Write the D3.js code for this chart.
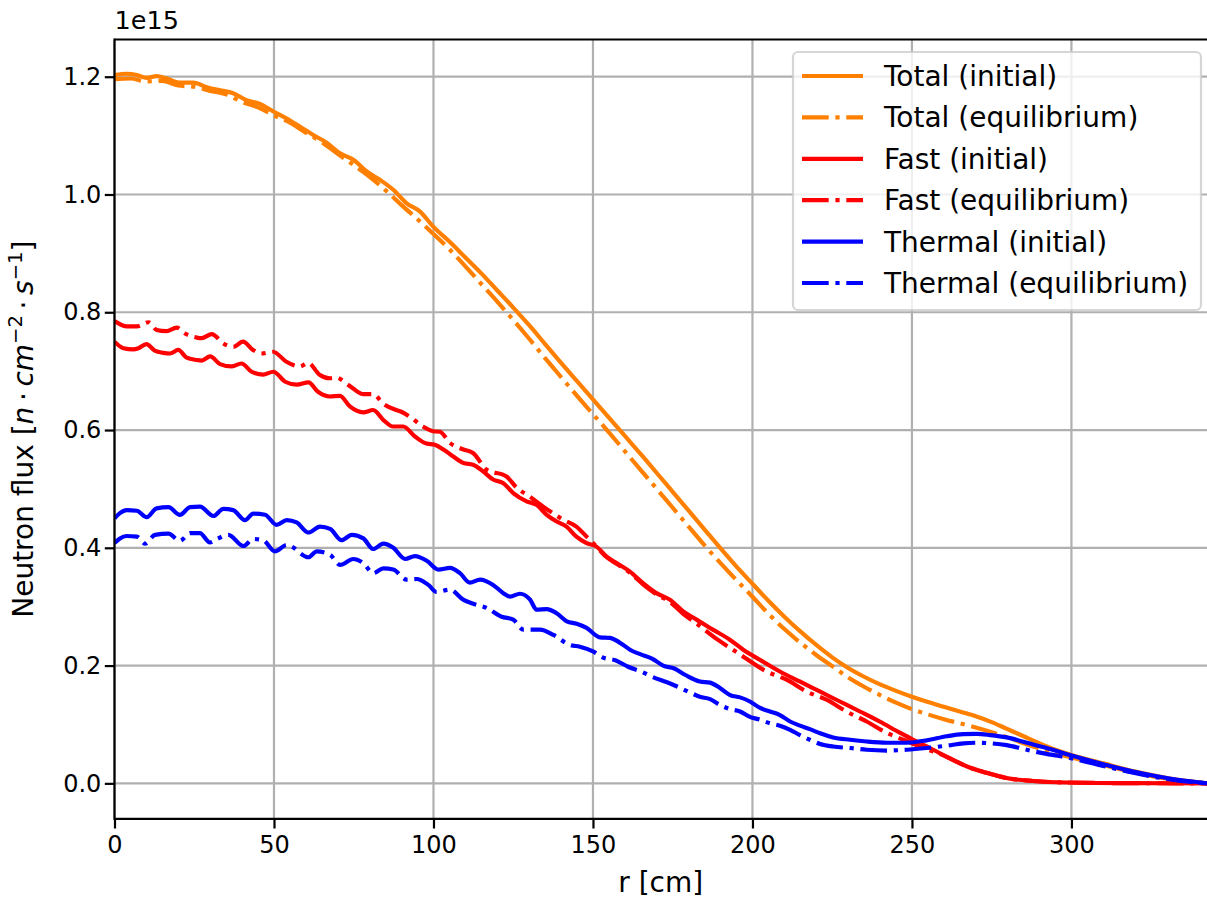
<!DOCTYPE html>
<html>
<head>
<meta charset="utf-8">
<script src="https://cdn.jsdelivr.net/npm/d3@7"></script>
<style>
  html, body { margin: 0; padding: 0; background: #fff; }
  svg { display: block; font-family: "DejaVu Sans", sans-serif; }
</style>
</head>
<body>
<svg id="chart" width="1207" height="905"></svg>
<script>
// Radial neutron flux profiles, [r (cm), flux / 1e15 (n·cm^-2·s^-1)]
const totalInitial = [[0,1.203],[3.8,1.205],[7.0,1.203],[10.1,1.198],[13.2,1.201],[16.4,1.197],[20.5,1.190],[24.7,1.190],[28.9,1.182],[33.1,1.177],[37.2,1.172],[41.4,1.160],[45.6,1.154],[49.8,1.141],[54.0,1.129],[58.2,1.115],[62.3,1.101],[66.5,1.088],[70.7,1.070],[74.9,1.059],[79.1,1.039],[83.2,1.025],[87.4,1.008],[91.6,0.985],[95.8,0.971],[100,0.945],[105,0.920],[110,0.893],[115,0.866],[120,0.837],[125,0.808],[130,0.778],[135,0.746],[140,0.714],[145,0.683],[150,0.652],[155,0.621],[160,0.590],[165,0.559],[170,0.527],[175,0.495],[180,0.463],[185,0.431],[190,0.399],[195,0.368],[200,0.339],[205,0.310],[210,0.283],[215,0.258],[220,0.235],[225,0.214],[230,0.196],[235,0.181],[240,0.168],[245,0.157],[250,0.147],[255,0.138],[260,0.130],[265,0.122],[270,0.114],[275,0.104],[280,0.092],[285,0.080],[290,0.068],[295,0.057],[300,0.048],[310,0.034],[320,0.020],[330,0.009],[342.5,0]];

const totalEquilibrium = [[0,1.196],[5,1.197],[10,1.192],[15,1.193],[20,1.185],[25,1.183],[30,1.176],[35,1.170],[40,1.157],[45,1.148],[50,1.134],[55,1.122],[60,1.105],[65,1.089],[70,1.069],[75,1.050],[80,1.030],[85,1.007],[90,0.982],[95,0.958],[100,0.933],[105,0.907],[110,0.878],[115,0.848],[120,0.818],[125,0.787],[130,0.755],[135,0.722],[140,0.690],[145,0.658],[150,0.627],[155,0.596],[160,0.564],[165,0.532],[170,0.500],[175,0.468],[180,0.436],[185,0.404],[190,0.374],[195,0.345],[200,0.317],[205,0.288],[210,0.262],[215,0.239],[220,0.218],[225,0.199],[230,0.180],[235,0.164],[240,0.150],[245,0.137],[250,0.126],[255,0.117],[260,0.109],[265,0.102],[270,0.095],[275,0.087],[280,0.078],[285,0.068],[290,0.059],[295,0.051],[300,0.044],[310,0.031],[320,0.018],[330,0.008],[342.5,0]];

const fastInitial = [[0,0.750],[2.8,0.739],[5.9,0.737],[7.5,0.739],[10.0,0.746],[12.6,0.735],[15.3,0.731],[17.4,0.730],[20.0,0.736],[22.6,0.723],[25.8,0.719],[27.3,0.718],[30.0,0.725],[33.1,0.712],[36.8,0.708],[39.8,0.713],[43.0,0.699],[46.6,0.694],[49.8,0.699],[53.5,0.682],[57.1,0.677],[60.8,0.681],[63.8,0.665],[67.5,0.657],[70.7,0.658],[73.8,0.640],[78.0,0.630],[81.1,0.634],[84.3,0.617],[87.3,0.606],[90.5,0.606],[94.2,0.589],[97.8,0.577],[100.4,0.575],[103.1,0.567],[106.2,0.555],[109.4,0.544],[112.4,0.541],[115.5,0.530],[118.7,0.516],[121.8,0.510],[125.0,0.493],[129.2,0.479],[132.3,0.473],[135.5,0.456],[138.5,0.445],[141.7,0.436],[144.8,0.419],[148.0,0.408],[151.1,0.402],[154.3,0.385],[157.4,0.374],[161.5,0.360],[165.7,0.340],[169.9,0.323],[174.1,0.312],[178.3,0.292],[182.5,0.278],[187.6,0.261],[192.9,0.244],[197.1,0.227],[202.3,0.210],[208.6,0.190],[214.8,0.173],[221.1,0.156],[227.4,0.139],[233.7,0.122],[239.9,0.105],[246.2,0.086],[250.4,0.074],[254.6,0.063],[258.8,0.051],[262.8,0.040],[267.1,0.029],[273.3,0.018],[279.6,0.009],[287.9,0.004],[298.4,0.0015],[320,0.0003],[342.5,0]];

const fastEquilibrium = [[0,0.785],[3.9,0.776],[7.0,0.776],[10.7,0.783],[13.2,0.770],[16.3,0.768],[19.5,0.774],[22.1,0.764],[25.8,0.757],[27.3,0.756],[30.5,0.763],[34.1,0.747],[37.2,0.741],[40.3,0.750],[43.4,0.736],[46.0,0.730],[49.7,0.733],[53.9,0.716],[58.1,0.708],[60.7,0.714],[64.3,0.694],[67.4,0.688],[69.5,0.689],[73.7,0.675],[77.9,0.661],[81.1,0.661],[84.2,0.645],[88.3,0.634],[89.9,0.631],[92.5,0.623],[96.7,0.606],[99.9,0.598],[102.0,0.597],[105.2,0.578],[109.4,0.567],[112.4,0.561],[116.6,0.533],[122.9,0.521],[126.1,0.502],[130.2,0.487],[134.4,0.470],[140.6,0.448],[144.8,0.436],[148.0,0.419],[151.1,0.402],[154.3,0.384],[157.4,0.373],[161.5,0.358],[165.7,0.338],[169.9,0.321],[174.1,0.308],[178.3,0.288],[182.8,0.270],[189.1,0.244],[195.3,0.222],[204.4,0.190],[210.7,0.176],[216.9,0.156],[223.2,0.142],[229.5,0.122],[235.8,0.105],[242.0,0.086],[248.3,0.072],[254.6,0.058],[258.8,0.050],[262.8,0.040],[267.1,0.029],[273.3,0.018],[279.6,0.009],[287.9,0.004],[298.4,0.0015],[320,0.0003],[342.5,0]];

const thermalInitial = [[0,0.450],[1.7,0.459],[3.8,0.464],[7.0,0.463],[10.1,0.452],[13.2,0.467],[16.9,0.469],[20.5,0.456],[23.7,0.469],[26.8,0.470],[31.0,0.454],[34.1,0.466],[37.2,0.464],[40.9,0.447],[43.5,0.458],[47.2,0.456],[50.8,0.439],[54.0,0.447],[57.1,0.443],[60.8,0.426],[64.4,0.436],[67.6,0.432],[71.2,0.413],[74.4,0.422],[78.0,0.416],[81.1,0.398],[84.3,0.407],[87.4,0.400],[91.1,0.381],[94.2,0.386],[97.9,0.378],[101.5,0.363],[105.2,0.366],[108.3,0.357],[111.4,0.341],[114.6,0.346],[118.7,0.337],[121.9,0.323],[124.0,0.317],[127.1,0.322],[130.3,0.312],[132.3,0.295],[135.5,0.296],[138.6,0.289],[141.8,0.275],[144.9,0.271],[148.0,0.264],[152.2,0.248],[155.3,0.247],[159.5,0.235],[161.6,0.227],[165.0,0.219],[168.5,0.212],[172.0,0.200],[175.5,0.195],[179.0,0.184],[183.5,0.173],[186.7,0.171],[189.8,0.162],[193.0,0.150],[196.1,0.146],[199.2,0.139],[202.4,0.128],[205.5,0.122],[208.6,0.116],[211.8,0.105],[214.9,0.098],[218.0,0.092],[221.2,0.085],[225.3,0.078],[230.6,0.074],[235.8,0.071],[242.1,0.069],[248.3,0.069],[254.6,0.073],[260.9,0.080],[266.1,0.0835],[270.3,0.084],[274.5,0.082],[279.7,0.078],[286.0,0.069],[292.2,0.060],[299.5,0.048],[308.9,0.034],[319.4,0.020],[329.8,0.009],[342.5,0]];

const thermalEquilibrium = [[0,0.408],[1.7,0.416],[3.8,0.420],[7.0,0.419],[9.6,0.407],[12.7,0.422],[16.9,0.424],[20.5,0.412],[23.7,0.425],[26.8,0.425],[29.9,0.409],[32.5,0.416],[35.7,0.422],[40.4,0.403],[43.5,0.415],[46.6,0.413],[50.3,0.394],[54.0,0.405],[55.5,0.402],[60.8,0.384],[63.4,0.394],[67.6,0.388],[70.7,0.371],[74.9,0.381],[78.0,0.374],[81.1,0.357],[84.3,0.365],[87.4,0.363],[91.6,0.346],[94.7,0.347],[98.4,0.337],[101.0,0.325],[105.2,0.329],[109.3,0.312],[112.5,0.305],[116.7,0.298],[121.4,0.283],[125.0,0.278],[128.2,0.261],[133.4,0.261],[137.6,0.252],[142.8,0.235],[145.9,0.232],[150.0,0.224],[153.0,0.214],[157.0,0.209],[161.0,0.198],[165.0,0.190],[169.0,0.180],[173.0,0.172],[177.0,0.163],[180.5,0.154],[183.5,0.147],[186.7,0.143],[189.8,0.133],[193.0,0.126],[196.1,0.122],[199.2,0.113],[202.4,0.108],[205.5,0.102],[208.6,0.098],[211.8,0.091],[214.9,0.082],[218.0,0.074],[221.2,0.067],[225.3,0.0625],[230.6,0.060],[235.8,0.057],[242.1,0.0557],[248.3,0.057],[254.6,0.060],[260.9,0.064],[266.1,0.068],[270.3,0.069],[274.5,0.068],[279.7,0.065],[286.0,0.057],[292.2,0.050],[299.5,0.043],[308.9,0.031],[319.4,0.018],[329.8,0.0076],[342.5,0]];

const seriesLabels = ["Total (initial)", "Total (equilibrium)", "Fast (initial)", "Fast (equilibrium)", "Thermal (initial)", "Thermal (equilibrium)"];
const seriesColors = ["#ff8000", "#ff8000", "#ff0000", "#ff0000", "#0000ff", "#0000ff"];
const seriesDashed = [false, true, false, true, false, true];
const seriesData = [totalInitial, totalEquilibrium, fastInitial, fastEquilibrium, thermalInitial, thermalEquilibrium];

const xTicks = [0, 50, 100, 150, 200, 250, 300];
const yTicks = [0.0, 0.2, 0.4, 0.6, 0.8, 1.0, 1.2];
const xDomain = [0, 342.5];
const yDomain = [-0.0602, 1.2632];

// Layout
const plot = { left: 114.5, right: 1207, top: 39.5, bottom: 818.8 };
const LW = 4.17;
const dashPattern = [26.7, 6.7, 4.2, 6.7].join(",");
const tickFont = 24;
const offsetFont = 25.5;
const labelFont = 28;
const gridColor = "#b0b0b0";

const svg = d3.select("#chart");
const x = d3.scaleLinear().domain(xDomain).range([plot.left, plot.right]);
const y = d3.scaleLinear().domain(yDomain).range([plot.bottom, plot.top]);

svg.append("defs").append("clipPath").attr("id", "plotClip")
  .append("rect")
  .attr("x", plot.left).attr("y", plot.top)
  .attr("width", plot.right - plot.left).attr("height", plot.bottom - plot.top);

// Grid
const grid = svg.append("g");
grid.selectAll("line.gx").data(xTicks).join("line")
  .attr("x1", d => x(d)).attr("x2", d => x(d))
  .attr("y1", plot.top).attr("y2", plot.bottom)
  .attr("stroke", gridColor).attr("stroke-width", 2.2);
grid.selectAll("line.gy").data(yTicks).join("line")
  .attr("y1", d => y(d)).attr("y2", d => y(d))
  .attr("x1", plot.left).attr("x2", plot.right)
  .attr("stroke", gridColor).attr("stroke-width", 2.2);

// Curves
const line = d3.line()
  .x(d => x(d[0]))
  .y(d => y(d[1]))
  .curve(d3.curveMonotoneX);

const curves = svg.append("g").attr("clip-path", "url(#plotClip)");
seriesData.forEach((data, i) => {
  curves.append("path")
    .datum(data)
    .attr("d", line)
    .attr("fill", "none")
    .attr("stroke", seriesColors[i])
    .attr("stroke-width", LW)
    .attr("stroke-linejoin", "round")
    .attr("stroke-dasharray", seriesDashed[i] ? dashPattern : null);
});

// Axes
const xAxis = d3.axisBottom(x).tickValues(xTicks).tickFormat(d3.format("d"))
  .tickSizeInner(9.7).tickSizeOuter(0).tickPadding(7);
const yAxis = d3.axisLeft(y).tickValues(yTicks).tickFormat(d3.format(".1f"))
  .tickSizeInner(9.7).tickSizeOuter(0).tickPadding(3.5);

const gx = svg.append("g").attr("transform", `translate(0,${plot.bottom})`).call(xAxis);
const gy = svg.append("g").attr("transform", `translate(${plot.left},0)`).call(yAxis);
[gx, gy].forEach(g => {
  g.select(".domain").remove();
  g.selectAll(".tick line").attr("stroke", "#000").attr("stroke-width", 2.2);
  g.selectAll(".tick text")
    .attr("fill", "#000")
    .style("font-family", "DejaVu Sans")
    .style("font-size", tickFont + "px");
});

// Spines
const spines = svg.append("g").attr("stroke", "#000").attr("stroke-width", 2.2).attr("fill", "none");
spines.append("line").attr("x1", plot.left).attr("x2", plot.left).attr("y1", plot.top - 1.1).attr("y2", plot.bottom + 1.1);
spines.append("line").attr("x1", plot.left).attr("x2", plot.right + 2).attr("y1", plot.bottom).attr("y2", plot.bottom);
spines.append("line").attr("x1", plot.left).attr("x2", plot.right + 2).attr("y1", plot.top).attr("y2", plot.top);

// Offset (scale) text
svg.append("text")
  .attr("x", plot.left).attr("y", plot.top - 11)
  .style("font-size", offsetFont + "px")
  .text("1e15");

// Axis labels
svg.append("text")
  .attr("x", (plot.left + plot.right) / 2).attr("y", 892)
  .attr("text-anchor", "middle")
  .style("font-size", labelFont + "px")
  .text("r [cm]");

const yl = svg.append("text")
  .attr("transform", `translate(33,${(plot.top + plot.bottom) / 2}) rotate(-90)`)
  .attr("text-anchor", "middle")
  .style("font-size", labelFont + "px");
yl.append("tspan").text("Neutron flux [");
yl.append("tspan").attr("font-style", "italic").text("n");
yl.append("tspan").text("\u2009\u00b7\u2009");
yl.append("tspan").attr("font-style", "italic").text("cm");
yl.append("tspan").attr("dy", -11).style("font-size", (labelFont * 0.7) + "px").text("\u22122");
yl.append("tspan").attr("dy", 11).text("\u2009\u00b7\u2009");
yl.append("tspan").attr("font-style", "italic").text("s");
yl.append("tspan").attr("dy", -11).style("font-size", (labelFont * 0.7) + "px").text("\u22121");
yl.append("tspan").attr("dy", 11).text("]");

// Legend
const legend = { x: 793, y: 52, w: 408, h: 258, rowY0: 76, rowStep: 41.4 };
const lg = svg.append("g");
lg.append("rect")
  .attr("x", legend.x).attr("y", legend.y)
  .attr("width", legend.w).attr("height", legend.h)
  .attr("rx", 5).attr("ry", 5)
  .attr("fill", "#fff").attr("fill-opacity", 0.8)
  .attr("stroke", "#cccccc").attr("stroke-opacity", 0.8).attr("stroke-width", 2.2);

seriesLabels.forEach((label, i) => {
  const cy = legend.rowY0 + i * legend.rowStep;
  lg.append("line")
    .attr("x1", 802).attr("x2", 863)
    .attr("y1", cy).attr("y2", cy)
    .attr("stroke", seriesColors[i])
    .attr("stroke-width", LW)
    .attr("stroke-dasharray", seriesDashed[i] ? dashPattern : null);
  lg.append("text")
    .attr("x", 884).attr("y", cy + 10)
    .style("font-size", labelFont + "px")
    .text(label);
});
</script>
</body>
</html>
